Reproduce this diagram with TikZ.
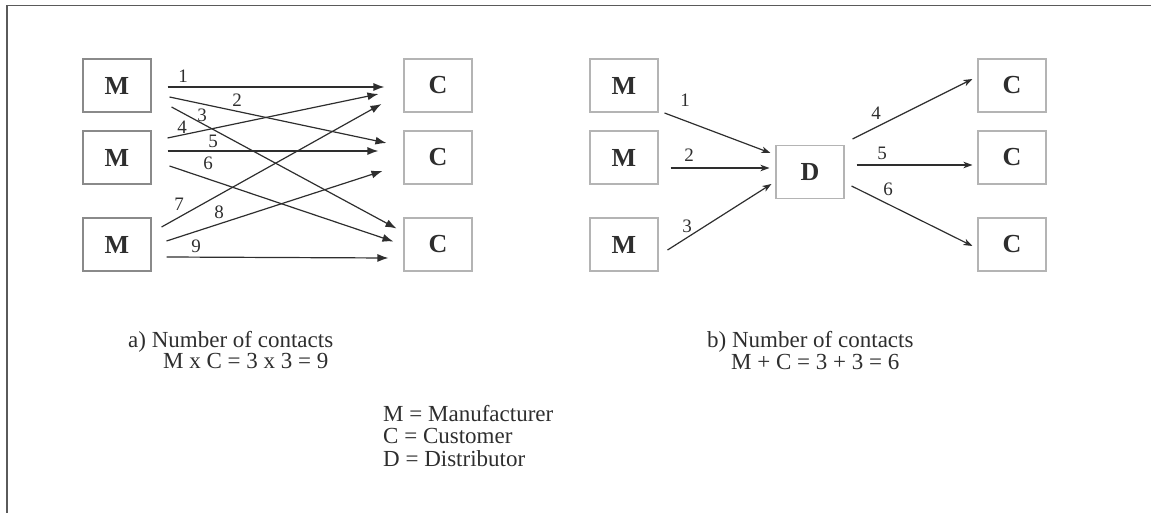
\documentclass[tikz,border=0pt]{standalone}
\usepackage{fontspec}
\setmainfont{Liberation Serif}
\usetikzlibrary{arrows.meta,calc}
\definecolor{ink}{HTML}{2E2E2E}
\definecolor{boxdark}{HTML}{8A8A8A}
\definecolor{boxlight}{HTML}{B4B4B4}
\definecolor{frame}{HTML}{5A5A5A}
\tikzset{
  ent/.style={draw=boxlight,line width=1.1pt,minimum width=68pt,minimum height=53pt,inner sep=0pt,font=\fontsize{26}{28}\selectfont\bfseries,text=ink},
  entdark/.style={ent,draw=boxdark},
  arrA/.style={draw=ink,line width=1.2pt,-{Latex[length=11pt,width=8pt]}},
  arrB/.style={draw=ink,line width=1.2pt,-{Stealth[length=9pt,width=6.5pt,inset=2.5pt]}},
  num/.style={font=\fontsize{19}{21}\selectfont,text=ink,inner sep=0pt},
  txt/.style={font=\fontsize{23}{25}\selectfont,text=ink,inner sep=0pt,anchor=base west}
}
\begin{document}
\begin{tikzpicture}[x=1pt,y=-1pt]
\useasboundingbox (0,0) rectangle (1151,513);
\draw[frame,line width=1.5pt] (7,513) -- (7,5.5) -- (1151,5.5);
% left diagram
\node[entdark] (m1) at (117,85.5) {M};
\node[entdark] (m2) at (117,157.5) {M};
\node[entdark] (m3) at (117,244.5) {M};
\node[ent] (c1) at (438,85.5) {C};
\node[ent] (c2) at (438,157.5) {C};
\node[ent] (c3) at (438,244.5) {C};
\draw[arrA] ($(m1.east)+(16,1.5)$) -- ($(c1.west)+(-19,1.5)$);
\draw[arrA] ($(m1.east)+(18,11.5)$) -- ($(c2.west)+(-17,-14.5)$);
\draw[arrA] ($(m1.east)+(20,21.5)$) -- ($(c3.west)+(-7,-16)$);
\draw[arrA] ($(m2.east)+(16,-19.5)$) -- ($(c1.west)+(-25,8.5)$);
\draw[arrA] ($(m2.east)+(16,-6.5)$) -- ($(c2.west)+(-25,-6.5)$);
\draw[arrA] ($(m2.east)+(18,8.5)$) -- ($(c3.west)+(-10,-3)$);
\draw[arrA] ($(m3.east)+(10,-17.5)$) -- ($(c1.west)+(-22,18.5)$);
\draw[arrA] ($(m3.east)+(15,-3.5)$) -- ($(c2.west)+(-21,13.5)$);
\draw[arrA] ($(m3.east)+(15,12.5)$) -- ($(c3.west)+(-15,13.5)$);
\node[num] (l1) at (183,76) {1};
\node[num] (l2) at (237,100) {2};
\node[num] (l3) at (202,115) {3};
\node[num] (l4) at (182,127) {4};
\node[num] (l5) at (213,141) {5};
\node[num] (l6) at (208,163) {6};
\node[num] (l7) at (179,204) {7};
\node[num] (l8) at (219,212) {8};
\node[num] (l9) at (196,246) {9};
% right diagram
\node[ent] (rm1) at (624,85.5) {M};
\node[ent] (rm2) at (624,157.5) {M};
\node[ent] (rm3) at (624,244.5) {M};
\node[ent] (d) at (810,172) {D};
\node[ent] (rc1) at (1012,85.5) {C};
\node[ent] (rc2) at (1012,157.5) {C};
\node[ent] (rc3) at (1012,244.5) {C};
\draw[arrB] ($(rm1.east)+(6,27.5)$) -- ($(d.west)+(-5,-19)$);
\draw[arrB] ($(rm2.east)+(12,10.5)$) -- ($(d.west)+(-6,-4)$);
\draw[arrB] ($(rm3.east)+(9,5.5)$) -- ($(d.west)+(-4,12)$);
\draw[arrB] ($(d.east)+(8,-33)$) -- ($(rc1.west)+(-5,-6.5)$);
\draw[arrB] ($(d.east)+(12,-7)$) -- ($(rc2.west)+(-5,7.5)$);
\draw[arrB] ($(d.east)+(7,14)$) -- ($(rc3.west)+(-5,1.5)$);
\node[num] (r1) at (685,100) {1};
\node[num] (r2) at (689,155) {2};
\node[num] (r3) at (687,226) {3};
\node[num] (r4) at (876,113) {4};
\node[num] (r5) at (882,153) {5};
\node[num] (r6) at (888,189) {6};
% texts
\node[txt] (ta1) at (128,347) {a) Number of contacts};
\node[txt] (ta2) at (163,368) {M x C = 3 x 3 = 9};
\node[txt] (tb1) at (707,347) {b) Number of contacts};
\node[txt] (tb2) at (731,369) {M + C = 3 + 3 = 6};
\node[txt] (k1) at (383,421) {M = Manufacturer};
\node[txt] (k2) at (383,443) {C = Customer};
\node[txt] (k3) at (383,466) {D = Distributor};
\end{tikzpicture}
\end{document}
